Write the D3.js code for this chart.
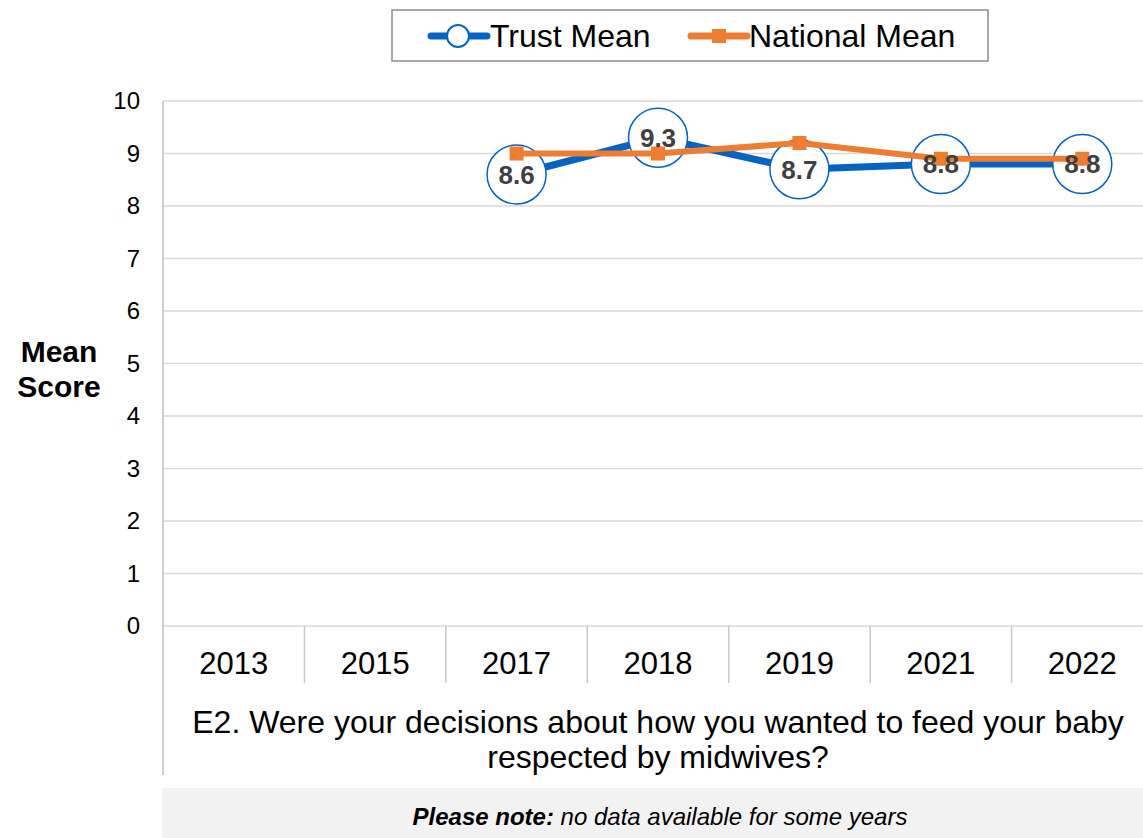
<!DOCTYPE html>
<html><head><meta charset="utf-8">
<script src="https://cdn.jsdelivr.net/npm/d3@7"></script>
<style>body{margin:0;background:#fff;} svg{display:block;font-family:"Liberation Sans",Arial,sans-serif;}</style>
</head><body>
<svg id="chart" width="1143" height="838"></svg>
<script>
const years = ["2013","2015","2017","2018","2019","2021","2022"];
const trustMean = [null, null, 8.6, 9.3, 8.7, 8.8, 8.8];
const nationalMean = [null, null, 9.0, 9.0, 9.2, 8.9, 8.9];
const yTicks = [0,1,2,3,4,5,6,7,8,9,10];
const seriesNames = ["Trust Mean", "National Mean"];
const questionLines = ["E2. Were your decisions about how you wanted to feed your baby", "respected by midwives?"];

(function () {
const svg = d3.select("#chart");
const pLeft = 163, pRight = 1153, pTop = 101, pBottom = 626;
const blue = "#0563C1", orange = "#ED7D31";

const x = d3.scaleBand().domain(years).range([pLeft, pRight]).padding(0);
const y = d3.scaleLinear().domain([0, 10]).range([pBottom, pTop]);

// gridlines
svg.append("g").selectAll("line").data(yTicks).join("line")
  .attr("x1", pLeft).attr("x2", pRight)
  .attr("y1", d => y(d)).attr("y2", d => y(d))
  .attr("stroke", "#d9d9d9").attr("stroke-width", 1.3);

// y axis line
svg.append("line").attr("x1", pLeft).attr("x2", pLeft).attr("y1", pTop).attr("y2", 775)
  .attr("stroke", "#bfbfbf").attr("stroke-width", 1.5);

// y tick labels
svg.append("g").selectAll("text").data(yTicks).join("text")
  .attr("x", 140).attr("y", d => y(d)).attr("dy", "0.35em")
  .attr("text-anchor", "end").attr("font-size", 24).attr("fill", "#000")
  .text(d => d);

// y title
svg.append("text").attr("font-size", 30).attr("font-weight", "bold")
  .attr("text-anchor", "middle")
  .selectAll("tspan").data(["Mean", "Score"]).join("tspan")
  .attr("x", 59).attr("y", (d, i) => 362 + i * 35).text(d => d);

// x separators
svg.append("g").selectAll("line").data(years.slice(1)).join("line")
  .attr("x1", d => x(d)).attr("x2", d => x(d)).attr("y1", pBottom).attr("y2", 683)
  .attr("stroke", "#c8c8c8").attr("stroke-width", 1.5);

// x labels
svg.append("g").selectAll("text").data(years).join("text")
  .attr("x", d => x(d) + x.bandwidth() / 2).attr("y", 674)
  .attr("text-anchor", "middle").attr("font-size", 31).attr("fill", "#000")
  .text(d => d);

// question
svg.append("g").selectAll("text").data(questionLines).join("text")
  .attr("x", 658).attr("y", (d, i) => 733 + i * 35)
  .attr("text-anchor", "middle").attr("font-size", 32).attr("fill", "#000")
  .text(d => d);

// note box
svg.append("rect").attr("x", 162).attr("y", 788).attr("width", 981).attr("height", 50).attr("fill", "#f2f2f2");
const note = svg.append("text").attr("x", 660).attr("y", 825).attr("text-anchor", "middle")
  .attr("font-size", 24).attr("font-style", "italic").attr("fill", "#000");
note.append("tspan").attr("font-weight", "bold").text("Please note:");
note.append("tspan").text(" no data available for some years");

const cx = d => x(d) + x.bandwidth() / 2;
const trustData = years.map((yr, i) => ({yr, v: trustMean[i]})).filter(d => d.v != null);
const natData = years.map((yr, i) => ({yr, v: nationalMean[i]})).filter(d => d.v != null);
const line = d3.line().x(d => cx(d.yr)).y(d => y(d.v));

// trust line
svg.append("path").datum(trustData).attr("d", line).attr("fill", "none")
  .attr("stroke", blue).attr("stroke-width", 7).attr("stroke-linejoin", "round");
svg.append("g").selectAll("ellipse").data(trustData).join("ellipse")
  .attr("cx", d => cx(d.yr)).attr("cy", d => y(d.v)).attr("rx", 29.5).attr("ry", 29.5)
  .attr("fill", "#fff").attr("stroke", blue).attr("stroke-width", 1.5);

// national line
svg.append("path").datum(natData).attr("d", line).attr("fill", "none")
  .attr("stroke", orange).attr("stroke-width", 6).attr("stroke-linejoin", "round");
svg.append("g").selectAll("rect").data(natData).join("rect")
  .attr("x", d => cx(d.yr) - 7).attr("y", d => y(d.v) - 7).attr("width", 14).attr("height", 14)
  .attr("fill", orange);

// trust labels
svg.append("g").selectAll("text").data(trustData).join("text")
  .attr("x", d => cx(d.yr)).attr("y", d => y(d.v)).attr("dy", "0.36em")
  .attr("text-anchor", "middle").attr("font-size", 26).attr("font-weight", "bold")
  .attr("fill", "#404040").text(d => d.v.toFixed(1));

// legend
svg.append("rect").attr("x", 392).attr("y", 10).attr("width", 596).attr("height", 51)
  .attr("fill", "#fff").attr("stroke", "#8c8c8c").attr("stroke-width", 1.5);
const lg1 = svg.append("g");
lg1.append("line").attr("x1", 431).attr("x2", 487).attr("y1", 36).attr("y2", 36)
  .attr("stroke", blue).attr("stroke-width", 7).attr("stroke-linecap", "round");
lg1.append("ellipse").attr("cx", 458).attr("cy", 36).attr("rx", 11).attr("ry", 11)
  .attr("fill", "#fff").attr("stroke", blue).attr("stroke-width", 2);
lg1.append("text").attr("x", 490).attr("y", 47).attr("font-size", 32).attr("fill", "#000").text(seriesNames[0]);
const lg2 = svg.append("g");
lg2.append("line").attr("x1", 691).attr("x2", 747).attr("y1", 36).attr("y2", 36)
  .attr("stroke", orange).attr("stroke-width", 7).attr("stroke-linecap", "round");
lg2.append("rect").attr("x", 712).attr("y", 29).attr("width", 14).attr("height", 14).attr("fill", orange);
lg2.append("text").attr("x", 749).attr("y", 47).attr("font-size", 32).attr("fill", "#000").text(seriesNames[1]);
})();
</script>
</body></html>
